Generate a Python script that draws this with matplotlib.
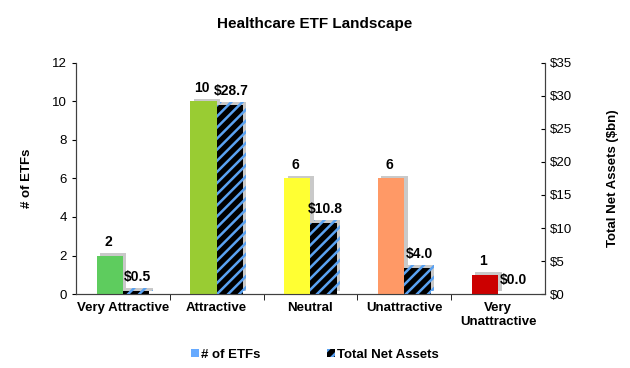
import matplotlib
matplotlib.use("Agg")
import matplotlib.pyplot as plt
import matplotlib.patheffects as pe
from matplotlib.patches import Patch
import numpy as np

plt.rcParams['font.family'] = ['Liberation Sans', 'DejaVu Sans']
plt.rcParams['hatch.linewidth'] = 1.8

categories = ["Very Attractive", "Attractive", "Neutral", "Unattractive", "Very\nUnattractive"]
etf_counts = [2, 10, 6, 6, 1]
net_assets = [0.5, 28.7, 10.8, 4.0, 0.0]
count_colors = ["#5ECC5E", "#99CC33", "#FFFF33", "#FF9966", "#CC0000"]
left_ticks = [0, 2, 4, 6, 8, 10, 12]
right_ticks = [0, 5, 10, 15, 20, 25, 30, 35]

fig = plt.figure(figsize=(6.3, 3.68), dpi=100)
ax = fig.add_axes([0.1206, 0.201, 0.7444, 0.628])
ax2 = ax.twinx()

x = np.arange(len(categories))
w = 0.28
shadow = [pe.SimplePatchShadow(offset=(2.5, 2), shadow_rgbFace="#c4c4c4", alpha=0.9), pe.Normal()]

ax.bar(x - w / 2, etf_counts, w, color=count_colors, linewidth=0, path_effects=shadow, zorder=3)
ax2.bar(x + w / 2, net_assets, w, color="black", edgecolor="#5AA2F2", hatch="///",
        linewidth=0, path_effects=shadow, zorder=3)

for xi, c in zip(x, etf_counts):
    ax.text(xi - w / 2 - 0.02, c + 0.35, str(c), ha="center", va="bottom", fontsize=10, fontweight="bold")
for xi, a in zip(x, net_assets):
    ax2.text(xi + w / 2 + 0.02, a + 1.0, f"${a:.1f}", ha="center", va="bottom", fontsize=10, fontweight="bold")

ax.set_xlim(-0.5, len(categories) - 0.5)
ax.set_ylim(0, 12)
ax2.set_ylim(0, 35)
ax.set_yticks(left_ticks)
ax2.set_yticks(right_ticks)
ax2.set_yticklabels([f"${t}" for t in right_ticks])

ax.set_xticks(x)
ax.set_xticklabels(categories, fontsize=9.5, fontweight="bold")
ax.tick_params(axis="x", which="major", length=0, pad=6)
ax.set_xticks(np.arange(0.5, len(categories) - 0.5), minor=True)
ax.tick_params(axis="x", which="minor", length=4, direction="out")
ax.tick_params(axis="y", labelsize=9.5, length=3)
ax2.tick_params(axis="y", labelsize=9.5, length=3, direction="in")

ax.set_ylabel("# of ETFs", fontsize=9.5, fontweight="bold", labelpad=14)
ax2.set_ylabel("Total Net Assets ($bn)", fontsize=9.5, fontweight="bold", labelpad=25)

for a in (ax, ax2):
    a.spines["top"].set_visible(False)
    for s in ("left", "right", "bottom"):
        a.spines[s].set_color("#404040")

fig.suptitle("Healthcare ETF Landscape", y=0.955, fontsize=11, fontweight="bold")

handles = [Patch(facecolor="#66AAFF", edgecolor="none"),
           Patch(facecolor="black", edgecolor="#5AA2F2", hatch="///", linewidth=0)]
fig.legend(handles, ["# of ETFs", "Total Net Assets"], loc="lower center", ncol=2,
           bbox_to_anchor=(0.5, -0.012), frameon=False, handlelength=0.6, handleheight=0.6,
           handletextpad=0.2, columnspacing=5, prop={"weight": "bold", "size": 9.5})

fig.savefig("out.png", dpi=100)
